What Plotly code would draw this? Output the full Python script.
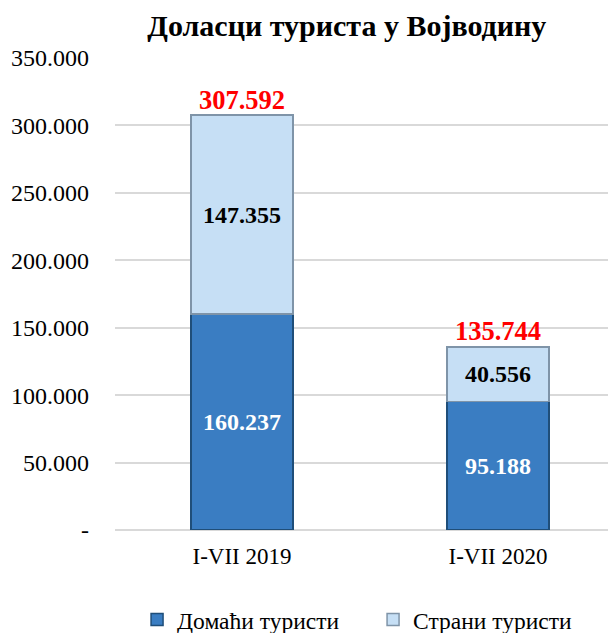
import plotly.graph_objects as go

# Data
periods = ["I-VII 2019", "I-VII 2020"]
domestic = [160237, 95188]
foreign = [147355, 40556]
totals = [307592, 135744]

tick_vals = [0, 50000, 100000, 150000, 200000, 250000, 300000, 350000]
tick_text = ["-", "50.000", "100.000", "150.000", "200.000", "250.000", "300.000", "350.000"]


def fmt(v):
    return f"{v:,}".replace(",", ".")


serif = "Liberation Serif"

fig = go.Figure()

fig.add_trace(go.Bar(
    x=periods, y=domestic, name="Домаћи туристи",
    marker=dict(color="#3A7DC2", line=dict(color="#1F4E79", width=1.5)),
    text=[fmt(v) for v in domestic], textposition="inside",
    insidetextanchor="middle",
    textfont=dict(family=serif, size=24, color="white", weight="bold"),
    width=0.4,
))
fig.add_trace(go.Bar(
    x=periods, y=foreign, name="Страни туристи",
    marker=dict(color="#C6DFF5", line=dict(color="#7F94A8", width=1.5)),
    text=[fmt(v) for v in foreign], textposition="inside",
    insidetextanchor="middle",
    textfont=dict(family=serif, size=24, color="black", weight="bold"),
    width=0.4,
))
# totals above the stacks
fig.add_trace(go.Scatter(
    x=periods, y=totals, mode="text",
    text=[fmt(v) for v in totals], textposition="top center",
    textfont=dict(family=serif, size=26.5, color="#FF0000", weight="bold"),
    showlegend=False, hoverinfo="skip",
))

fig.update_layout(
    barmode="stack",
    width=616, height=633,
    margin=dict(l=107, r=0, t=50, b=111, autoexpand=False),
    plot_bgcolor="white", paper_bgcolor="white",
    font=dict(family=serif, color="black"),
    title=dict(text="<b>Доласци туриста у Војводину</b>", x=0.55, xref="container",
               xanchor="center", y=1 - 17 / 633, yref="container", yanchor="middle",
               font=dict(size=30, family=serif)),
    legend=dict(orientation="h", x=0.507, xanchor="center", y=-0.19, yanchor="middle",
                font=dict(size=23.5, family=serif), traceorder="normal",
                itemwidth=30, entrywidth=191, entrywidthmode="pixels"),
)
fig.update_xaxes(range=[-0.496, 1.492], showgrid=False, zeroline=False,
                 tickfont=dict(size=23, family=serif), ticks="", ticklabelstandoff=10)
fig.update_yaxes(range=[0, 350000], tickvals=tick_vals, ticktext=tick_text,
                 showgrid=True, gridcolor="#D9D9D9", gridwidth=1.5,
                 zeroline=True, zerolinecolor="#D9D9D9", zerolinewidth=1.5,
                 tickfont=dict(size=24, family=serif), ticklabelstandoff=25)

fig.write_html("out.html")
